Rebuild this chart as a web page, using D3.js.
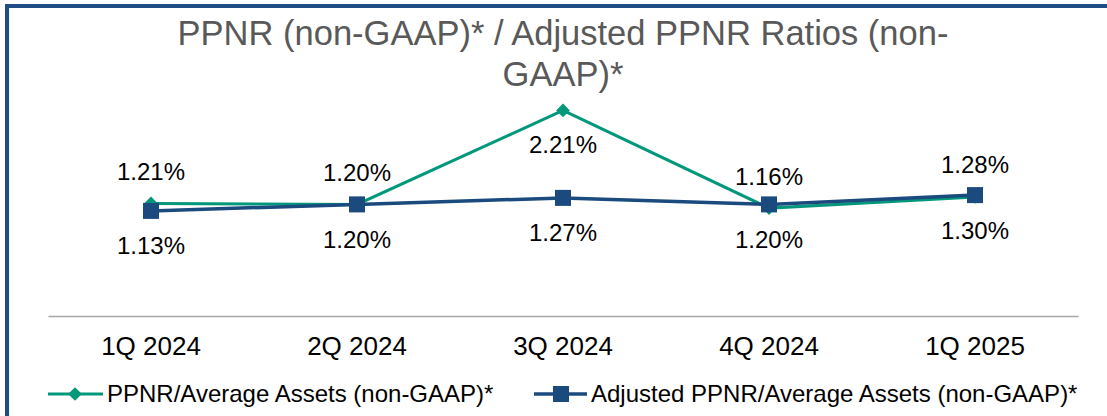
<!DOCTYPE html>
<html>
<head>
<meta charset="utf-8">
<script src="https://cdn.jsdelivr.net/npm/d3@7"></script>
<style>
    body { margin: 0; background: #fff; }
    svg { display: block; font-family: "Liberation Sans", Arial, sans-serif; }
</style>
</head>
<body>
<div class="chart_container"></div>
<script>
// data
const quarters = ["1Q 2024", "2Q 2024", "3Q 2024", "4Q 2024", "1Q 2025"];
const ppnrValues = [1.21, 1.20, 2.21, 1.16, 1.28];
const adjustedValues = [1.13, 1.20, 1.27, 1.20, 1.30];
const ppnrLabelSide = ["up", "up", "down", "up", "up"];
const adjustedLabelSide = ["down", "down", "down", "down", "down"];
const seriesNames = ["PPNR/Average Assets (non-GAAP)*", "Adjusted PPNR/Average Assets (non-GAAP)*"];

const width = 1107;
const height = 416;
const green = "#00977A";
const blue = "#1A4A7E";

const svg = d3.select(".chart_container")
    .append("svg")
    .attr("width", width)
    .attr("height", height);

// frame
svg.append("rect")
    .attr("x", 7).attr("y", 6)
    .attr("width", width + 20).attr("height", height + 20)
    .attr("fill", "none")
    .attr("stroke", "#1F4E86")
    .attr("stroke-width", 4);

// title
const title = svg.append("text")
    .attr("text-anchor", "middle")
    .attr("fill", "#595959")
    .attr("font-size", 34.5);
title.append("tspan").attr("x", 563).attr("y", 45).text("PPNR (non-GAAP)* / Adjusted PPNR Ratios (non-");
title.append("tspan").attr("x", 563).attr("y", 86).text("GAAP)*");

// scales
const x = d3.scaleBand().domain(quarters).range([48, 1078]);
const y = d3.scaleLinear().domain([0, 2.5]).range([316, 83.5]);

// x axis
const xAxis = svg.append("g")
    .attr("transform", "translate(0,316)")
    .call(d3.axisBottom(x).tickSize(0).tickPadding(21));
xAxis.select(".domain").attr("stroke", "#A6A6A6").attr("stroke-width", 1.5);
xAxis.selectAll("text")
    .attr("font-size", 26)
    .attr("fill", "#000")
    .attr("font-family", "Liberation Sans, Arial, sans-serif");

const cx = (d, i) => x(quarters[i]) + x.bandwidth() / 2;
const line = d3.line().x((d, i) => cx(d, i)).y(d => y(d));

// PPNR line
svg.append("path")
    .datum(ppnrValues)
    .attr("d", line)
    .attr("fill", "none")
    .attr("stroke", green)
    .attr("stroke-width", 3);

// Adjusted line
svg.append("path")
    .datum(adjustedValues)
    .attr("d", line)
    .attr("fill", "none")
    .attr("stroke", blue)
    .attr("stroke-width", 3.5);

const diamond = d3.symbol().type(d3.symbolDiamond2).size(120);
const sq = 16;

svg.selectAll(".ppnr_dot")
    .data(ppnrValues)
    .enter()
    .append("path")
    .attr("class", "ppnr_dot")
    .attr("d", diamond)
    .attr("transform", (d, i) => `translate(${cx(d, i)},${y(d)})`)
    .attr("fill", green);

svg.selectAll(".adj_dot")
    .data(adjustedValues)
    .enter()
    .append("rect")
    .attr("class", "adj_dot")
    .attr("x", (d, i) => cx(d, i) - sq / 2)
    .attr("y", d => y(d) - sq / 2)
    .attr("width", sq)
    .attr("height", sq)
    .attr("fill", blue);

// labels
const fmt = d => d.toFixed(2) + "%";
svg.selectAll(".ppnr_label")
    .data(ppnrValues)
    .enter()
    .append("text")
    .attr("class", "ppnr_label")
    .attr("x", (d, i) => cx(d, i))
    .attr("y", (d, i) => y(d) + (ppnrLabelSide[i] === "up" ? -32 : 34))
    .attr("dy", "0.35em")
    .attr("text-anchor", "middle")
    .attr("font-size", 24)
    .text(fmt);

svg.selectAll(".adj_label")
    .data(adjustedValues)
    .enter()
    .append("text")
    .attr("class", "adj_label")
    .attr("x", (d, i) => cx(d, i))
    .attr("y", (d, i) => y(d) + (adjustedLabelSide[i] === "up" ? -32 : 35))
    .attr("dy", "0.35em")
    .attr("text-anchor", "middle")
    .attr("font-size", 24)
    .text(fmt);

// legend
const legendY = 394;
const lg1 = svg.append("g");
lg1.append("line").attr("x1", 48).attr("x2", 103).attr("y1", legendY).attr("y2", legendY)
    .attr("stroke", green).attr("stroke-width", 3);
lg1.append("path").attr("d", diamond).attr("transform", `translate(75,${legendY})`).attr("fill", green);
lg1.append("text").attr("x", 107).attr("y", legendY).attr("dy", "0.35em")
    .attr("font-size", 24).text(seriesNames[0]);

const lg2 = svg.append("g");
lg2.append("line").attr("x1", 534).attr("x2", 587).attr("y1", legendY).attr("y2", legendY)
    .attr("stroke", blue).attr("stroke-width", 3.5);
lg2.append("rect").attr("x", 561 - sq / 2).attr("y", legendY - sq / 2).attr("width", sq).attr("height", sq).attr("fill", blue);
lg2.append("text").attr("x", 591).attr("y", legendY).attr("dy", "0.35em")
    .attr("font-size", 24).text(seriesNames[1]);
</script>
</body>
</html>
